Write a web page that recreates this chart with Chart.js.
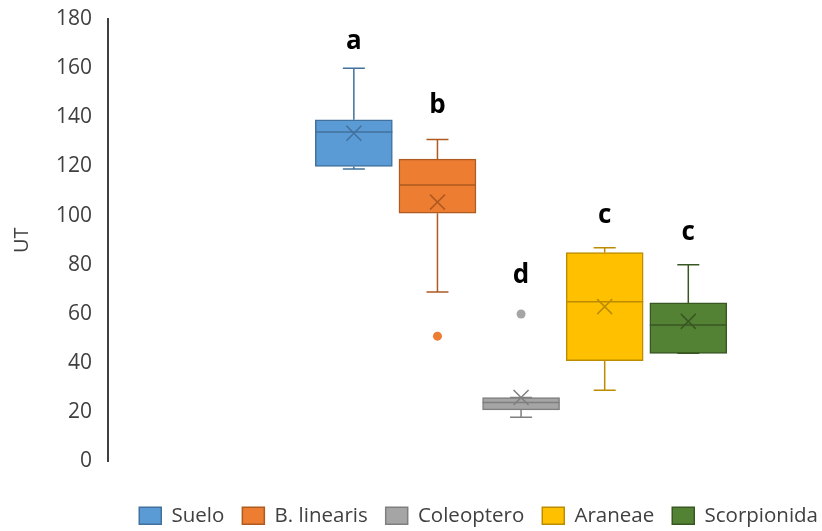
<!DOCTYPE html>
<html>
<head>
<meta charset="utf-8">
<script src="https://cdn.jsdelivr.net/npm/chart.js@4/dist/chart.umd.min.js"></script>
<style>
  html, body { margin: 0; padding: 0; background: #ffffff; }
  #wrap { width: 822px; height: 531px; }
</style>
</head>
<body>
<div id="wrap"><canvas id="c" width="822" height="531"></canvas></div>
<script>
// Box-and-whisker summary per group (UT)
const categories  = ['Suelo', 'B. linearis', 'Coleoptero', 'Araneae', 'Scorpionida'];
const whiskerMin  = [119, 69, 18, 29, 44];
const q1          = [120, 101, 21, 41, 44];
const median      = [134, 112.5, 24, 65, 55.5];
const q3          = [139, 123, 26, 85, 64.5];
const whiskerMax  = [160, 131, 26, 87, 80];
const means       = [133.5, 105.5, 26, 63, 57];
const outliers    = [[], [51], [60], [], []];
const groupLetter = ['a', 'b', 'd', 'c', 'c'];
const yTicks      = [0, 20, 40, 60, 80, 100, 120, 140, 160, 180];

// Styling
const fills   = ['#5B9BD5', '#ED7D31', '#A5A5A5', '#FFC000', '#548235'];
const strokes = ['#41719C', '#AE5A21', '#7F7F7F', '#BC8C00', '#385723'];
const letterGap = [27, 34, 38, 32, 32];   // px between the top mark and its letter
const FONT = "'Open Sans', 'DejaVu Sans', sans-serif";

const datasets = categories.map((name, i) => ({
  label: name,
  data: [{ x: i + 1, y: [q1[i], q3[i]] }],
  backgroundColor: fills[i],
  borderColor: strokes[i],
  borderWidth: 1.5,
  borderSkipped: false,
  grouped: false,
  barPercentage: 1,
  categoryPercentage: 1,
  barThickness: 77,
  maxBarThickness: 77
}));

// Whiskers, caps, medians, mean crosses, outliers and group letters
const boxPlotMarks = {
  id: 'boxPlotMarks',
  afterDatasetsDraw(chart) {
    const ctx = chart.ctx;
    const ys = chart.scales.y;
    ctx.save();
    categories.forEach((name, i) => {
      const bar = chart.getDatasetMeta(i).data[0];
      const cx = bar.x;
      const half = bar.width / 2;
      const capHalf = 11;
      const yMin = ys.getPixelForValue(whiskerMin[i]);
      const yQ1 = ys.getPixelForValue(q1[i]);
      const yQ3 = ys.getPixelForValue(q3[i]);
      const yMax = ys.getPixelForValue(whiskerMax[i]);
      const yMed = ys.getPixelForValue(median[i]);
      const yMean = ys.getPixelForValue(means[i]);

      ctx.strokeStyle = strokes[i];
      ctx.lineWidth = 1.5;
      ctx.beginPath();
      // upper whisker + cap
      ctx.moveTo(cx, yQ3); ctx.lineTo(cx, yMax);
      ctx.moveTo(cx - capHalf, yMax); ctx.lineTo(cx + capHalf, yMax);
      // lower whisker + cap
      ctx.moveTo(cx, yQ1); ctx.lineTo(cx, yMin);
      ctx.moveTo(cx - capHalf, yMin); ctx.lineTo(cx + capHalf, yMin);
      // median
      ctx.moveTo(cx - half, yMed); ctx.lineTo(cx + half, yMed);
      ctx.stroke();

      // mean cross
      const m = 7.5;
      ctx.beginPath();
      ctx.moveTo(cx - m, yMean - m); ctx.lineTo(cx + m, yMean + m);
      ctx.moveTo(cx - m, yMean + m); ctx.lineTo(cx + m, yMean - m);
      ctx.stroke();

      // outliers
      ctx.fillStyle = fills[i];
      outliers[i].forEach(v => {
        ctx.beginPath();
        ctx.arc(cx, ys.getPixelForValue(v), 4.5, 0, Math.PI * 2);
        ctx.fill();
      });

      // group letter above the highest mark
      const topVal = Math.max(whiskerMax[i], ...outliers[i]);
      const yTop = ys.getPixelForValue(topVal);
      ctx.fillStyle = '#000000';
      ctx.font = 'bold 26px ' + FONT;
      ctx.textAlign = 'center';
      ctx.textBaseline = 'middle';
      ctx.fillText(groupLetter[i], cx, yTop - letterGap[i]);
    });
    ctx.restore();
  }
};

new Chart(document.getElementById('c'), {
  type: 'bar',
  data: { datasets },
  plugins: [boxPlotMarks],
  options: {
    responsive: false,
    animation: false,
    devicePixelRatio: 1,
    layout: { padding: { top: 19, left: 0, right: -14, bottom: -5 } },
    plugins: {
      tooltip: { enabled: false },
      legend: {
        position: 'bottom',
        align: 'end',
        labels: {
          boxWidth: 22,
          boxHeight: 17,
          padding: 18,
          color: '#404040',
          font: { family: FONT, size: 20.5 }
        }
      }
    },
    scales: {
      x: {
        type: 'linear',
        offset: false,
        min: -1.94,
        max: 6.599,
        ticks: { display: false, stepSize: 1 },
        grid: { display: false, drawTicks: false, offset: false },
        border: { display: false },
        afterFit(scale) { scale.height = 26; }
      },
      y: {
        min: 0,
        max: 180,
        afterBuildTicks(scale) { scale.ticks = yTicks.map(v => ({ value: v })); },
        // only half a label of overflow above and below the axis
        afterFit(scale) { scale.paddingTop = 12; scale.paddingBottom = 12; },
        ticks: {
          padding: 16,
          color: '#404040',
          font: { family: FONT, size: 21 }
        },
        grid: { display: false, drawTicks: false },
        border: { display: true, color: '#404040', width: 2 },
        title: {
          display: true,
          text: 'UT',
          color: '#404040',
          padding: { top: 10, bottom: 6 },
          font: { family: FONT, size: 20 }
        }
      }
    }
  }
});
</script>
</body>
</html>
